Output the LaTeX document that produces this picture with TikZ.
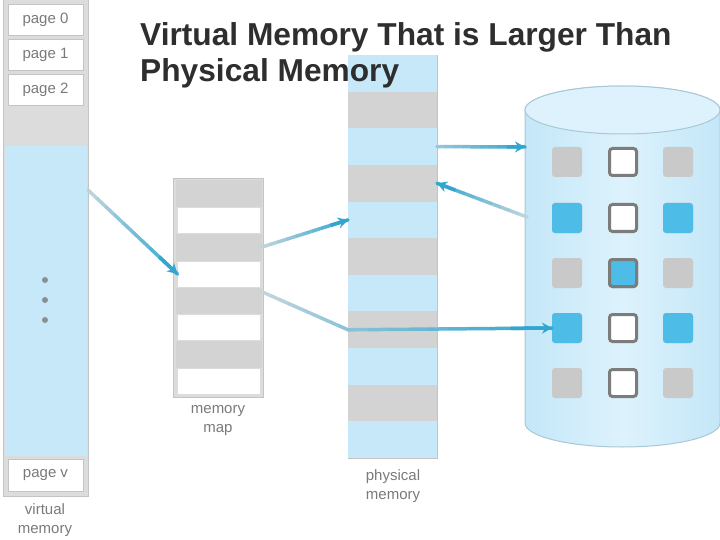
\documentclass[tikz,border=0pt]{standalone}
\usepackage{fontspec}
\setmainfont{Liberation Sans}
\usetikzlibrary{arrows.meta,calc}
\definecolor{lblue}{HTML}{C6E8F9}
\definecolor{sgray}{HTML}{D3D3D3}
\definecolor{fgray}{HTML}{DCDCDC}
\definecolor{egray}{HTML}{C4C4C4}
\definecolor{dblue}{HTML}{4DBDE8}
\definecolor{arrdark}{HTML}{33A6CF}
\definecolor{arrlight}{HTML}{C4D6DE}
\definecolor{cylf}{HTML}{C4E7F8}
\definecolor{cylm}{HTML}{DDF2FC}
\definecolor{cyle}{HTML}{A8C8D6}
\definecolor{txt}{HTML}{2E2E2E}
\definecolor{lab}{HTML}{7A7A7A}
\definecolor{sqgray}{HTML}{C9C9C9}
\definecolor{sqedge}{HTML}{7C7C7C}
\newcommand\gradline[4]{%
  \foreach \k in {0,...,9}{%
    \pgfmathsetmacro\ka{\k/10}%
    \pgfmathsetmacro\kb{(\k+1)/10}%
    \pgfmathtruncatemacro\kc{#3+(#4-#3)*(\k+0.5)/10}%
    \draw[line width=3.5pt, line cap=round, color=arrdark!\kc!arrlight] ($(#1)!\ka!(#2)$) -- ($(#1)!\kb!(#2)$);
  }}
\newcommand\tipat[2]{\draw[-{Stealth[length=10pt,width=11pt]}, line width=3.5pt, arrdark] ($(#1)!0.8!(#2)$) -- (#2);}
\begin{document}
\begin{tikzpicture}[x=1pt,y=-1pt,
  box/.style={inner sep=0pt, outer sep=0pt},
  lbl/.style={font=\fontsize{15}{19}\selectfont, text=lab},
  sq/.style={box, minimum size=30pt, rounded corners=3pt},
  sqm/.style={box, minimum size=27pt, rounded corners=3pt, draw=sqedge, line width=3pt}]
\useasboundingbox (0,0) rectangle (720,540);

% virtual memory
\node[box, fill=fgray, draw=egray, line width=1pt, minimum width=85pt, minimum height=502pt] (vm) at (45.5,245) {};
\node[box, fill=white, draw=egray, line width=0.6pt, minimum width=75pt, minimum height=31pt, lbl] (pg0) at (45.5,19.5) {page 0};
\node[box, fill=white, draw=egray, line width=0.6pt, minimum width=75pt, minimum height=31pt, lbl] (pg1) at (45.5,54.5) {page 1};
\node[box, fill=white, draw=egray, line width=0.6pt, minimum width=75pt, minimum height=31pt, lbl] (pg2) at (45.5,90) {page 2};
\node[box, fill=lblue, minimum width=82pt, minimum height=310pt] (vblue) at (45.5,301) {};
\node[box, fill=white, draw=egray, line width=0.6pt, minimum width=75pt, minimum height=32pt, lbl] (pgv) at (45.5,475) {page v};
\foreach \yy/\nm in {280/d1,300/d2,320/d3}{\node[box, circle, fill=lab!80!lblue, minimum size=6pt] (\nm) at (45,\yy) {};}
\node[lbl, align=center] (vmlab) at (45,520) {virtual\\memory};

% memory map
\node[box, fill=fgray, draw=egray, line width=0.8pt, minimum width=90pt, minimum height=219pt] (map) at (218.5,288) {};
\foreach \i in {1,3,5,7}{\node[box, fill=sgray, minimum width=86pt, minimum height=26.875pt] (m\i) at (218.5,{180+(\i-0.5)*26.875}) {};}
\foreach \i in {2,4,6,8}{\node[box, fill=white, minimum width=82pt, minimum height=24.875pt] (m\i) at (218.5,{180+(\i-0.5)*26.875}) {};}
\node[lbl, align=center] (maplab) at (218,421) {memory\\map};

% physical memory
\node[box, draw=egray, line width=0.8pt, minimum width=89pt, minimum height=403pt] (pm) at (392.5,256.5) {};
\foreach \i in {1,3,5,7,9,11}{\node[box, fill=lblue, minimum width=89pt, minimum height=36.64pt] (p\i) at (392.5,{55+(\i-0.5)*36.64}) {};}
\foreach \i in {2,4,6,8,10}{\node[box, fill=sgray, minimum width=89pt, minimum height=36.64pt] (p\i) at (392.5,{55+(\i-0.5)*36.64}) {};}
\node[lbl, align=center] (pmlab) at (393,486) {physical\\memory};

% disk
\path[left color=cylf, right color=cylf, middle color=cylm, draw=cyle, line width=1pt]
  (525,110) -- (525,423) arc[start angle=180, end angle=360, x radius=97.5pt, y radius=24pt]
  -- (720,110) arc[start angle=0, end angle=180, x radius=97.5pt, y radius=24pt] -- cycle;
\draw[fill=cylm, draw=cyle, line width=1pt] (622.5,110) ellipse[x radius=97.5pt, y radius=24pt];
\coordinate (dk1) at (525,147);
\coordinate (dk2) at (527,217);
\foreach \r/\yy in {1/162,2/218,3/273,4/328,5/383}{
  \node[sq, fill=sqgray] (d\r1) at (567,\yy) {};
  \node[sq, fill=sqgray] (d\r3) at (678,\yy) {};
  \node[sqm, fill=white] (d\r2) at (623,\yy) {};
}
\node[sq, fill=dblue] at (d21) {};
\node[sq, fill=dblue] at (d23) {};
\node[sq, fill=dblue] at (d41) {};
\node[sq, fill=dblue] at (d43) {};
\node[sqm, fill=dblue] at (d32) {};

% title
\node[anchor=base west, font=\bfseries\fontsize{31.7}{36}\selectfont, text=txt, inner sep=0pt] (t1) at (140,46) {Virtual Memory That is Larger Than};
\node[anchor=base west, font=\bfseries\fontsize{31.7}{36}\selectfont, text=txt, inner sep=0pt] (t2) at (140,82) {Physical Memory};

% connectors
\coordinate (c1) at ($(vm.east)+(0,-55)$);
\gradline{c1}{m4.west}{0}{100}
\tipat{c1}{m4.west}
\gradline{m3.east}{p5.west}{0}{100}
\tipat{m3.east}{p5.west}
\coordinate (c3) at ($(m5.north east)+(2,5)$);
\gradline{c3}{p8.west}{0}{40}
\gradline{p8.west}{d41.west}{40}{100}
\tipat{p8.west}{d41.west}
\gradline{p3.east}{dk1}{30}{100}
\tipat{p3.east}{dk1}
\gradline{dk2}{p4.east}{0}{100}
\tipat{dk2}{p4.east}
\end{tikzpicture}
\end{document}
